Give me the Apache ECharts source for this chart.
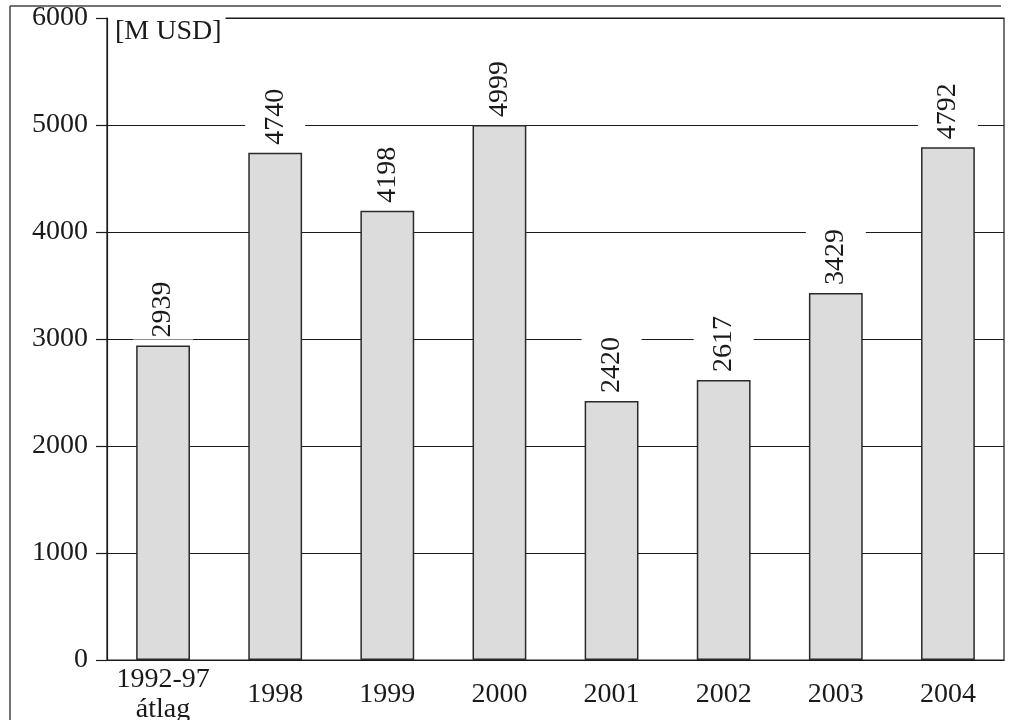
<!DOCTYPE html>
<html>
<head>
<meta charset="utf-8">
<script src="https://cdn.jsdelivr.net/npm/echarts@6/dist/echarts.min.js"></script>
<style>html,body{margin:0;padding:0;background:#fff}#c{width:1010px;height:720px}</style>
</head>
<body>
<div id="c"></div>
<script>
var categories = ['1992-97\nátlag', '1998', '1999', '2000', '2001', '2002', '2003', '2004'];
var values = [2939, 4740, 4198, 4999, 2420, 2617, 3429, 4792];
var yTicks = [0, 1000, 2000, 3000, 4000, 5000, 6000];
var unitLabel = '[M USD]';

var FONT = 'Liberation Serif';
var INK = '#1a1a1a';
var chart = echarts.init(document.getElementById('c'));
chart.setOption({
  animation: false,
  backgroundColor: '#fff',
  graphic: [
    { type: 'line', shape: { x1: 10, y1: 6, x2: 1001, y2: 6 }, style: { stroke: '#444', lineWidth: 1.5 } },
    { type: 'line', shape: { x1: 10, y1: 6, x2: 10, y2: 740 }, style: { stroke: '#444', lineWidth: 1.5 } }
  ],
  grid: { left: 107, right: 6, top: 18, bottom: 60, containLabel: false, outerBoundsMode: 'none', show: true, z: -1, borderColor: INK, borderWidth: 1.2, backgroundColor: 'transparent' },
  xAxis: {
    type: 'category',
    data: categories,
    axisLine: { lineStyle: { color: INK, width: 1.2 } },
    axisTick: { show: false },
    axisLabel: { color: INK, fontFamily: FONT, fontSize: 28, lineHeight: 30, verticalAlign: 'middle', margin: 35, interval: 0 }
  },
  yAxis: {
    type: 'value',
    min: yTicks[0], max: yTicks[yTicks.length - 1], interval: 1000,
    name: unitLabel,
    nameLocation: 'end',
    nameGap: 4,
    nameTextStyle: { color: INK, fontFamily: FONT, fontSize: 28, align: 'left', verticalAlign: 'top', backgroundColor: '#fff', padding: [4, 4, 2, 8] },
    axisLine: { show: true, lineStyle: { color: INK, width: 1.2 } },
    axisTick: { show: true, length: 11, lineStyle: { color: INK, width: 1.2 } },
    axisLabel: { color: INK, fontFamily: FONT, fontSize: 28, margin: 19, formatter: function (v) { return String(v); } },
    splitLine: { show: true, lineStyle: { color: INK, width: 1.2 } }
  },
  series: [{
    type: 'bar',
    data: values,
    barWidth: '48%',
    z: 3,
    itemStyle: { color: '#dcdcdc', borderColor: '#2a2a2a', borderWidth: 1.5 },
    label: {
      show: true, position: 'top', rotate: 90, align: 'left', verticalAlign: 'middle',
      distance: 6, color: INK, fontFamily: FONT, fontSize: 28, lineHeight: 28,
      backgroundColor: '#fff', padding: [16, 2, 16, 2]
    }
  }]
});
</script>
</body>
</html>
